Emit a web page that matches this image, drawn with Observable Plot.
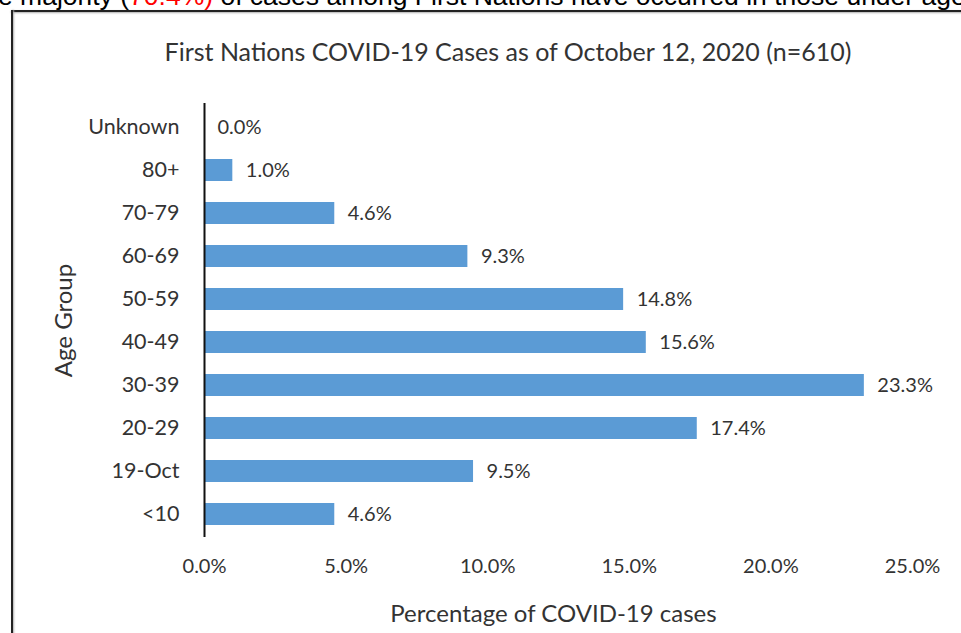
<!DOCTYPE html>
<html>
<head>
<meta charset="utf-8">
<script src="https://cdn.jsdelivr.net/npm/d3@7"></script>
<script src="https://cdn.jsdelivr.net/npm/@observablehq/plot@0.6"></script>
<style>
  html, body { margin: 0; padding: 0; background: #fff; overflow: hidden; }
  #wrap { position: relative; width: 961px; height: 633px; overflow: hidden; }
  #header { position: absolute; left: -2px; top: -19px; white-space: nowrap;
    font-family: "Liberation Sans", Arial, sans-serif; font-size: 26.5px; color: #000; }
  #header .red { color: #ff0000; }
  #frameTop { position: absolute; left: 11px; top: 10px; width: 960px; height: 2px; background: #222; box-shadow: 0 1px 2px #aaa; }
  #frameLeft { position: absolute; left: 11px; top: 10px; width: 2px; height: 640px; background: #222; box-shadow: 1px 0 2px #aaa; }
  #title { position: absolute; left: 0; width: 1016px; top: 36px; text-align: center;
    font-family: Lato, "Open Sans", sans-serif; font-size: 25px; color: #333; }
  #chart { position: absolute; left: 0; top: 0; }
</style>
</head>
<body>
<div id="wrap">
  <div id="header">e majority (<span class="red">70.4%)</span> of cases among First Nations have occurred in those under age 50</div>
  <div id="frameTop"></div>
  <div id="frameLeft"></div>
  <div id="title">First Nations COVID-19 Cases as of October 12, 2020 (n=610)</div>
  <div id="chart"></div>
</div>
<script>
const ageGroups = ["Unknown", "80+", "70-79", "60-69", "50-59", "40-49", "30-39", "20-29", "19-Oct", "<10"];
const percentages = [0.0, 1.0, 4.6, 9.3, 14.8, 15.6, 23.3, 17.4, 9.5, 4.6];
const xTicks = [0, 5, 10, 15, 20, 25];

const data = ageGroups.map((g, i) => ({group: g, pct: percentages[i]}));
const font = 'Lato, "Open Sans", sans-serif';

const plot = Plot.plot({
  width: 961,
  height: 633,
  marginLeft: 204,
  marginRight: 49,
  marginTop: 103,
  marginBottom: 96,
  style: {fontFamily: font, fontSize: "20px", color: "#333", background: "transparent"},
  x: {domain: [0, 25], ticks: xTicks},
  y: {domain: ageGroups, paddingInner: 0.5, paddingOuter: 0.25},
  marks: [
    Plot.barX(data, {x: "pct", y: "group", fill: "#5B9BD5"}),
    Plot.text(data, {x: "pct", y: "group", text: d => d.pct.toFixed(1) + "%", textAnchor: "start", dx: 13, fill: "#333", fontSize: 20}),
    Plot.ruleX([0], {stroke: "#111", strokeWidth: 2}),
    Plot.axisX({ticks: xTicks, tickSize: 0, tickPadding: 21, tickFormat: d => d.toFixed(1) + "%", fontSize: 20,
      label: "Percentage of COVID-19 cases", labelAnchor: "center", labelArrow: "none", labelOffset: 84}),
    Plot.axisY({tickSize: 0, tickPadding: 25, fontSize: 21.5,
      label: "Age Group", labelAnchor: "center", labelArrow: "none", labelOffset: 150})
  ]
});
plot.querySelectorAll("g[aria-label='x-axis label'] text, g[aria-label='y-axis label'] text").forEach(t => {
  t.style.fontSize = "24px";
});
const xl = plot.querySelector("g[aria-label='x-axis label']");
if (xl) xl.setAttribute("transform", (xl.getAttribute("transform") || "") + " translate(-5,0)");
document.getElementById("chart").appendChild(plot);
</script>
</body>
</html>
